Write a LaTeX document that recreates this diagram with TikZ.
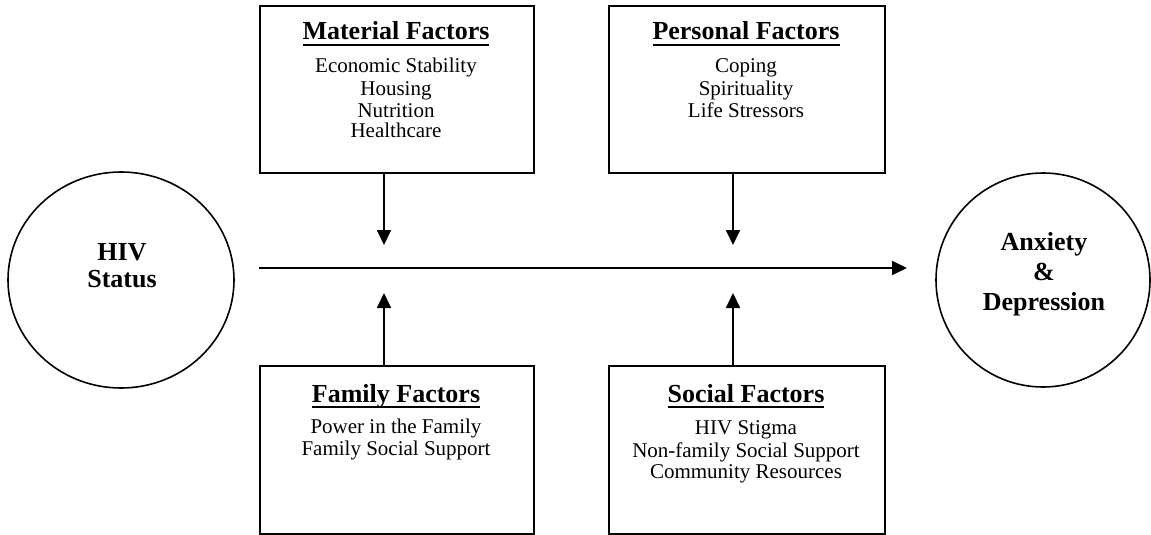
\documentclass[tikz,border=0pt]{standalone}
\usepackage{fontspec}
\setmainfont{Liberation Serif}
\usetikzlibrary{arrows.meta,shapes.geometric}
\newcommand{\ulbox}[1]{\setbox0\hbox{#1}\rlap{\rule[-6pt]{\wd0}{2pt}}\box0}
\newcommand{\bodylines}[1]{{\fontsize{21}{21}\selectfont\setlength{\tabcolsep}{0pt}\begin{tabular}[t]{c}#1\end{tabular}}}
\newcommand{\boldlines}[2]{{\fontsize{26}{#1}\selectfont\bfseries\setlength{\tabcolsep}{0pt}\begin{tabular}[t]{c}#2\end{tabular}}}
\tikzset{
  fbox/.style={draw,line width=1.6pt,rectangle,inner sep=0pt,anchor=north west},
  ttl/.style={anchor=base,inner sep=0pt,font=\fontsize{26}{28}\selectfont\bfseries},
  body/.style={anchor=base,inner sep=0pt},
  oval/.style={draw,line width=1.6pt,ellipse,inner sep=0pt},
  arr/.style={line width=1.8pt,-{Triangle[length=15pt,width=14pt]}}
}
\begin{document}
\begin{tikzpicture}[x=1pt,y=-1pt]
\useasboundingbox (0,0) rectangle (1151,535);
% circles
\node[oval,minimum width=226pt,minimum height=216pt] (hiv) at (121,280) {};
\node[body] (hivT) at (122,260) {\boldlines{27}{HIV\\Status}};
\node[oval,minimum width=214pt,minimum height=214pt] (anx) at (1043,280) {};
\node[body] (anxT) at (1044,250) {\boldlines{30}{Anxiety\\\&\\Depression}};
% boxes
\node[fbox,minimum width=274pt,minimum height=167pt] (mat) at (259,5) {};
\node[ttl] (matT) at (396,40) {\ulbox{Material Factors}};
\node[body] (matB) at (396,73) {\bodylines{Economic Stability\\[2pt]Housing\\Nutrition\\Healthcare}};
\node[fbox,minimum width=276pt,minimum height=167pt] (per) at (608,5) {};
\node[ttl] (perT) at (746,40) {\ulbox{Personal Factors}};
\node[body] (perB) at (746,73) {\bodylines{Coping\\[2pt]Spirituality\\Life Stressors}};
\node[fbox,minimum width=274pt,minimum height=168pt] (fam) at (259,365) {};
\node[ttl] (famT) at (396,402) {\ulbox{Family Factors}};
\node[body] (famB) at (396,433.5) {\bodylines{Power in the Family\\[1pt]Family Social Support}};
\node[fbox,minimum width=276pt,minimum height=168pt] (soc) at (608,365) {};
\node[ttl] (socT) at (746,402) {\ulbox{Social Factors}};
\node[body] (socB) at (746,434.5) {\bodylines{HIV Stigma\\[2pt]Non-family Social Support\\Community Resources}};
% connectors
\coordinate (hs) at (259,268);
\coordinate (he) at (907,268);
\draw[arr] (hs) -- (he);
\coordinate (m1) at (384,245);
\coordinate (p1) at (733,245);
\coordinate (f1) at (384,293);
\coordinate (s1) at (733,293);
\draw[arr] (mat.south -| m1) -- (m1);
\draw[arr] (per.south -| p1) -- (p1);
\draw[arr] (fam.north -| f1) -- (f1);
\draw[arr] (soc.north -| s1) -- (s1);
\end{tikzpicture}
\end{document}
